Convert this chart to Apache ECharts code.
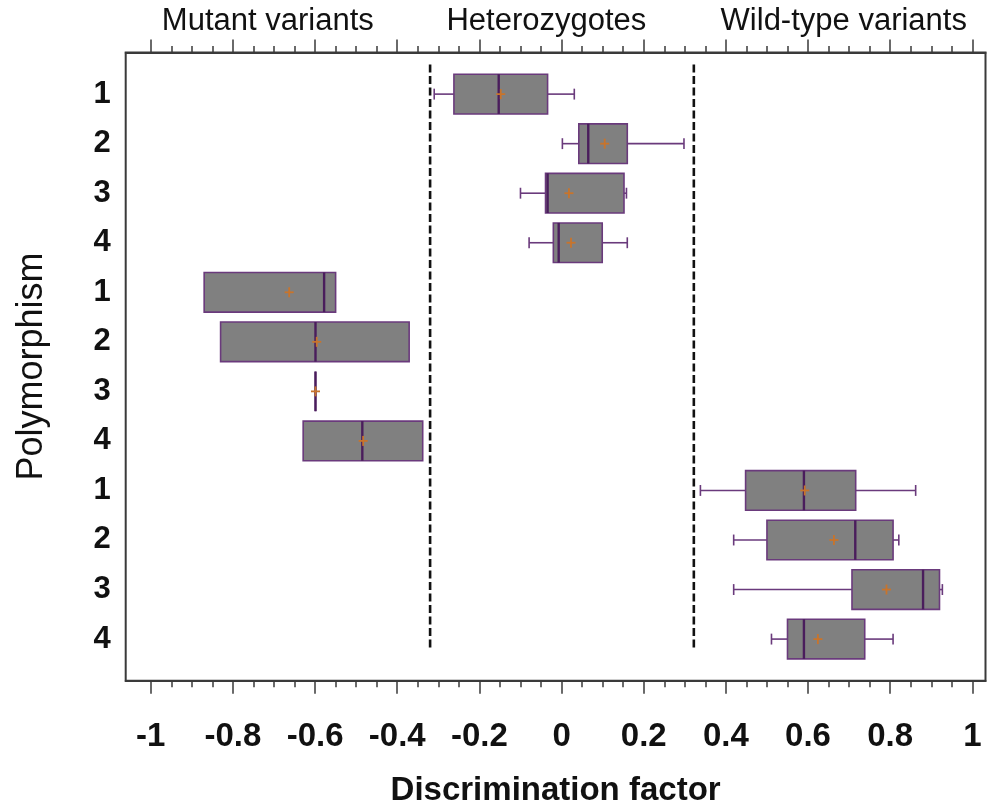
<!DOCTYPE html>
<html><head><meta charset="utf-8">
<script src="https://cdn.jsdelivr.net/npm/echarts@6/dist/echarts.min.js"></script>
<style>html,body{margin:0;padding:0;background:#fff}#c{width:988px;height:805px}</style>
</head><body><div id="c"></div>
<script>
// ---- data ----
const yLabels = ['1','2','3','4','1','2','3','4','1','2','3','4'];
const rowPos = [1,2,3,4,5,6,7,8,9,10,11,12];
const whiskerLow  = [-0.310, 0.002, -0.100, -0.079, -0.870, -0.830, -0.599, -0.629, 0.338, 0.419, 0.419, 0.511];
const q1          = [-0.262, 0.042, -0.039, -0.020, -0.870, -0.830, -0.599, -0.629, 0.448, 0.500, 0.707, 0.550];
const median      = [-0.153, 0.065, -0.034, -0.007, -0.578, -0.599, -0.599, -0.485, 0.590, 0.715, 0.880, 0.590];
const q3          = [-0.034, 0.160, 0.152, 0.099, -0.550, -0.371, -0.599, -0.338, 0.716, 0.807, 0.920, 0.738];
const whiskerHigh = [0.031, 0.298, 0.158, 0.160, -0.550, -0.371, -0.599, -0.338, 0.862, 0.821, 0.927, 0.807];
const mean        = [-0.148, 0.105, 0.018, 0.023, -0.663, -0.596, -0.599, -0.483, 0.592, 0.663, 0.791, 0.624];
const groupNames  = ['Mutant variants', 'Heterozygotes', 'Wild-type variants'];
const groupLabelX = [-0.715, -0.037, 0.687];
const dividers    = [-0.32, 0.322];
const majorTicks  = [-1, -0.8, -0.6, -0.4, -0.2, 0, 0.2, 0.4, 0.6, 0.8, 1];
const minorTicks  = [-0.95,-0.9,-0.85,-0.75,-0.7,-0.65,-0.55,-0.5,-0.45,-0.35,-0.3,-0.25,-0.15,-0.1,-0.05,
                     0.05,0.1,0.15,0.25,0.3,0.35,0.45,0.5,0.55,0.65,0.7,0.75,0.85,0.9,0.95];
const xMin = -1.061, xMax = 1.032;
const yMin = 0.16, yMax = 12.84;
const dividerSpan = [0.4, 12.24];

// ---- style ----
const SANS = "'Liberation Sans',Arial,sans-serif";
const axisColor = '#3a3a3a';
const boxFill = '#808080';
const boxBorder = '#6a3a7c';
const medianColor = '#4a1d5c';
const meanColor = '#c8742c';
const BOX_H = 0.8, CAP_H = 0.22;

const G = {left: 125.7, right: 2.5, top: 52.5, bottom: 124.3};

const chart = echarts.init(document.getElementById('c'), null, {renderer: 'canvas'});

function baseX(extra) {
  return Object.assign({
    type: 'value', gridIndex: 0, min: xMin, max: xMax,
    splitLine: {show: false}, axisLabel: {show: false},
    axisLine: {show: true, lineStyle: {color: axisColor, width: 2}},
  }, extra);
}

const option = {
  animation: false,
  backgroundColor: '#fff',
  grid: [
    Object.assign({show: true, borderColor: axisColor, borderWidth: 2, backgroundColor: 'transparent',
      containLabel: false, outerBoundsMode: 'none'}, G),
    {left: G.left, right: G.right, top: 69.2, height: 594.6, containLabel: false, outerBoundsMode: 'none'}
  ],
  xAxis: [
    baseX({position: 'bottom',
      axisTick: {show: true, customValues: majorTicks, length: 13, lineStyle: {color: axisColor, width: 1.5}},
      axisLabel: {show: true, customValues: majorTicks, margin: 40, color: '#111',
        fontFamily: SANS, fontWeight: 'bold', fontSize: 33,
        formatter: v => String(v)},
      name: 'Discrimination factor', nameLocation: 'middle', nameGap: 94,
      nameTextStyle: {fontFamily: SANS, fontWeight: 'bold', fontSize: 33, color: '#111'}
    }),
    baseX({position: 'bottom', axisLine: {show: false},
      axisTick: {show: true, customValues: minorTicks, length: 6.5, lineStyle: {color: axisColor, width: 1.5}}}),
    baseX({position: 'top',
      axisTick: {show: true, customValues: majorTicks, length: 13, lineStyle: {color: axisColor, width: 1.5}}}),
    baseX({position: 'top', axisLine: {show: false},
      axisTick: {show: true, customValues: minorTicks, length: 6.5, lineStyle: {color: axisColor, width: 1.5}}}),
    {type: 'value', gridIndex: 1, min: xMin, max: xMax, show: false}
  ],
  yAxis: [
    {type: 'value', gridIndex: 0, min: yMin, max: yMax, inverse: true, show: false},
    {type: 'category', gridIndex: 1, inverse: true, data: rowPos.map(String),
      axisLine: {show: false}, axisTick: {show: false}, splitLine: {show: false},
      axisLabel: {margin: 15, color: '#111', fontFamily: SANS, fontWeight: 'bold', fontSize: 31,
        formatter: (v, i) => yLabels[i]},
      name: 'Polymorphism', nameLocation: 'middle', nameGap: 76, nameRotate: 90,
      nameTextStyle: {fontFamily: SANS, fontSize: 36, color: '#111'}
    }
  ],
  series: [
    {
      type: 'custom', xAxisIndex: 0, yAxisIndex: 0, clip: false,
      data: dividers.map(d => [d]),
      encode: {x: 0},
      renderItem: (params, api) => {
        const d = api.value(0);
        const a = api.coord([d, dividerSpan[0]]);
        const b = api.coord([d, dividerSpan[1]]);
        return {type: 'line', shape: {x1: a[0], y1: a[1], x2: b[0], y2: b[1]},
          style: {stroke: '#111', lineWidth: 2.6, lineDash: [8, 3.5]}};
      }
    },
    {
      type: 'custom', xAxisIndex: 0, yAxisIndex: 0, clip: false,
      data: rowPos.map((r, i) => [r, whiskerLow[i], q1[i], median[i], q3[i], whiskerHigh[i], mean[i]]),
      encode: {y: 0, x: [1, 2, 3, 4, 5, 6]},
      renderItem: (params, api) => {
        const r = api.value(0);
        const v = [1,2,3,4,5,6].map(k => api.value(k));
        const px = v.map(x => api.coord([x, r])[0]);
        const yc = api.coord([v[0], r])[1];
        const h = api.size([0, BOX_H])[1];
        const ch = api.size([0, CAP_H])[1];
        const [pLow, pQ1, pMed, pQ3, pHigh, pMean] = px;
        const ws = {stroke: boxBorder, lineWidth: 1.6};
        const kids = [];
        if (pLow < pQ1 - 0.5) {
          kids.push({type: 'line', shape: {x1: pLow, y1: yc, x2: pQ1, y2: yc}, style: ws});
          kids.push({type: 'line', shape: {x1: pLow, y1: yc - ch/2, x2: pLow, y2: yc + ch/2}, style: ws});
        }
        if (pHigh > pQ3 + 0.5) {
          kids.push({type: 'line', shape: {x1: pQ3, y1: yc, x2: pHigh, y2: yc}, style: ws});
          kids.push({type: 'line', shape: {x1: pHigh, y1: yc - ch/2, x2: pHigh, y2: yc + ch/2}, style: ws});
        }
        kids.push({type: 'rect', shape: {x: pQ1, y: yc - h/2, width: Math.max(pQ3 - pQ1, 0), height: h},
          style: {fill: boxFill, stroke: boxBorder, lineWidth: 1.6}});
        kids.push({type: 'line', shape: {x1: pMed, y1: yc - h/2, x2: pMed, y2: yc + h/2},
          style: {stroke: medianColor, lineWidth: 2.4}});
        kids.push({type: 'line', shape: {x1: pMean - 4.5, y1: yc, x2: pMean + 4.5, y2: yc},
          style: {stroke: meanColor, lineWidth: 1.8}});
        kids.push({type: 'line', shape: {x1: pMean, y1: yc - 5, x2: pMean, y2: yc + 5},
          style: {stroke: meanColor, lineWidth: 1.8}});
        return {type: 'group', children: kids};
      }
    }
  ]
};
chart.setOption(option);

// group headings placed through the x scale
const graphics = groupNames.map((name, i) => {
  const p = chart.convertToPixel({xAxisIndex: 0, yAxisIndex: 0}, [groupLabelX[i], yMin]);
  return {type: 'text', x: p[0], y: 21, style: {text: name, fontFamily: SANS, fontSize: 31,
    fill: '#111', textAlign: 'center', textVerticalAlign: 'middle'}};
});
chart.setOption({graphic: graphics});
</script>
</body></html>
